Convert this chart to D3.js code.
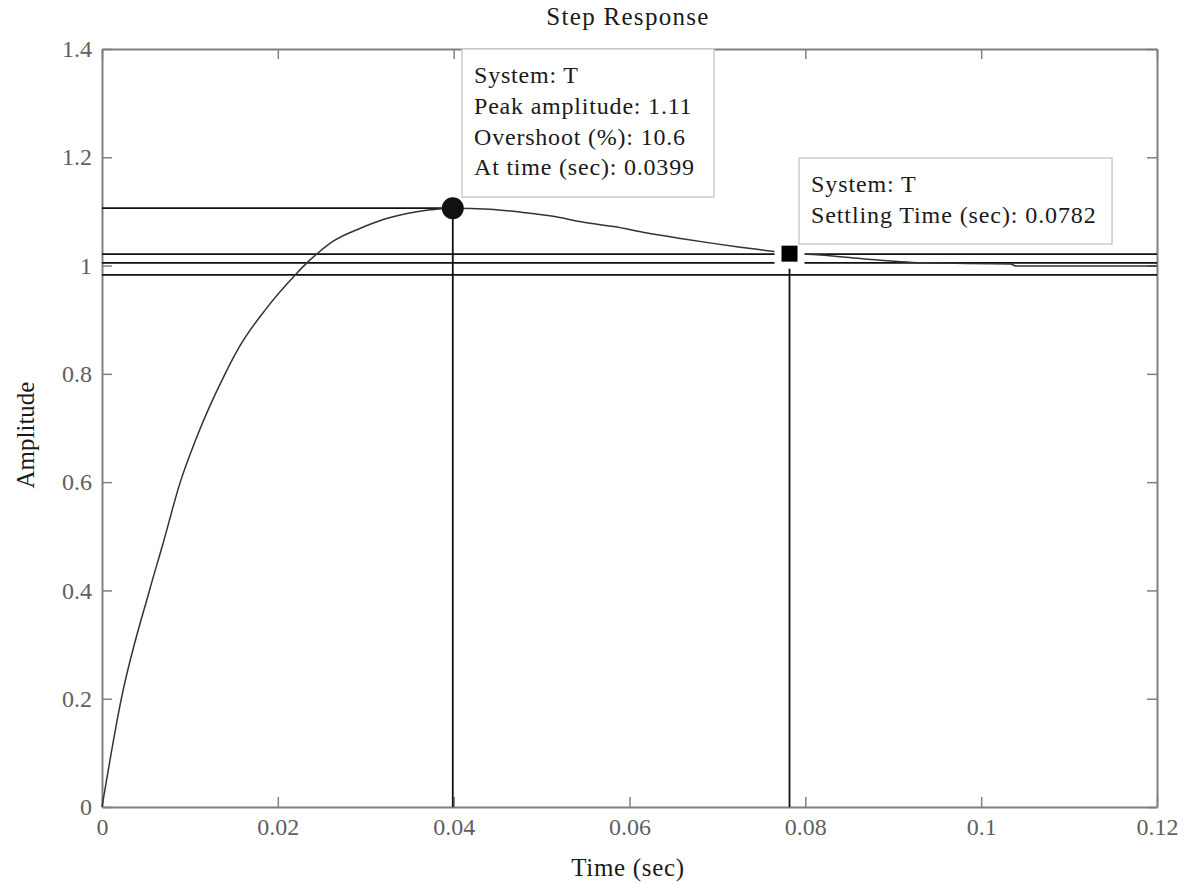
<!DOCTYPE html>
<html>
<head>
<meta charset="utf-8">
<script src="https://cdn.jsdelivr.net/npm/d3@7/dist/d3.min.js"></script>
<style>
  body { margin: 0; background: #fff; }
  text { font-family: "Liberation Serif", "Times New Roman", serif; }
</style>
</head>
<body>
<svg id="chart" width="1184" height="884"></svg>
<script>
// step response samples
var timeValues = [0, 0.0022, 0.0054, 0.0070, 0.0089, 0.0106, 0.0140, 0.0157, 0.0187, 0.0220,
  0.0233, 0.0244, 0.0263, 0.0294, 0.0320, 0.0347, 0.0369, 0.0399, 0.0441, 0.0479,
  0.0513, 0.0548, 0.0582, 0.0620, 0.0658, 0.0695, 0.0726, 0.0764, 0.0782, 0.0798,
  0.0813, 0.0843, 0.0885, 0.0938, 0.1033, 0.1040, 0.1200];
var ampValues = [0, 0.2, 0.4, 0.49, 0.6, 0.676, 0.8, 0.852, 0.921, 0.983,
  1.005, 1.021, 1.045, 1.069, 1.085, 1.096, 1.102, 1.106, 1.104, 1.098,
  1.091, 1.080, 1.072, 1.060, 1.050, 1.041, 1.034, 1.026, 1.022, 1.021,
  1.020, 1.016, 1.010, 1.005, 1.003, 0.999, 0.999];

var xTicks = [0, 0.02, 0.04, 0.06, 0.08, 0.1, 0.12];
var xTickLabels = ['0', '0.02', '0.04', '0.06', '0.08', '0.1', '0.12'];
var yTicks = [0, 0.2, 0.4, 0.6, 0.8, 1, 1.2, 1.4];
var yTickLabels = ['0', '0.2', '0.4', '0.6', '0.8', '1', '1.2', '1.4'];

// peak / settling characteristics
var peakTime = 0.0399, peakAmp = 1.106;
var settleTime = 0.0782, settleAmp = 1.022;
var bandLevels = [1.021, 1.005, 0.983];

var peakTip = ['System: T', 'Peak amplitude: 1.11', 'Overshoot (%): 10.6', 'At time (sec): 0.0399'];
var settleTip = ['System: T', 'Settling Time (sec): 0.0782'];

var margin = { top: 49, right: 27, bottom: 77, left: 102 };
var width = 1184 - margin.left - margin.right;
var height = 884 - margin.top - margin.bottom;

var serif = '"Liberation Serif", "Times New Roman", serif';

var svg = d3.select('#chart');
var g = svg.append('g').attr('transform', 'translate(' + margin.left + ',' + margin.top + ')');

var x = d3.scaleLinear().domain([0, 0.12]).range([0, width]);
var y = d3.scaleLinear().domain([0, 1.4]).range([height, 0]);

var axisColor = '#808080';
var fontSize = 24;

function styleAxis(sel, labelled) {
  sel.select('.domain').attr('stroke', axisColor).attr('stroke-width', 2);
  sel.selectAll('.tick line').attr('stroke', axisColor).attr('stroke-width', 1.5);
  sel.selectAll('.tick text')
    .attr('fill', '#606060')
    .attr('font-size', fontSize + 'px')
    .attr('font-family', serif);
  if (!labelled) sel.selectAll('.tick text').remove();
}

g.append('g')
  .attr('transform', 'translate(0,' + height + ')')
  .call(d3.axisBottom(x).tickValues(xTicks).tickSize(-10).tickSizeOuter(0).tickPadding(11)
    .tickFormat(function (d, i) { return xTickLabels[i]; }))
  .call(styleAxis, true);

g.append('g')
  .call(d3.axisTop(x).tickValues(xTicks).tickSize(-10).tickSizeOuter(0))
  .call(styleAxis, false);

g.append('g')
  .call(d3.axisLeft(y).tickValues(yTicks).tickSize(-10).tickSizeOuter(0).tickPadding(10)
    .tickFormat(function (d, i) { return yTickLabels[i]; }))
  .call(styleAxis, true);

g.append('g')
  .attr('transform', 'translate(' + width + ',0)')
  .call(d3.axisRight(y).tickValues(yTicks).tickSize(-10).tickSizeOuter(0))
  .call(styleAxis, false);

// settling band and final value lines
g.selectAll('.band')
  .data(bandLevels)
  .enter()
  .append('line')
  .attr('class', 'band')
  .attr('x1', 0)
  .attr('x2', width)
  .attr('y1', function (d) { return y(d); })
  .attr('y2', function (d) { return y(d); })
  .attr('stroke', '#111')
  .attr('stroke-width', 1.8);

// peak guide lines
g.append('line')
  .attr('x1', 0).attr('x2', x(peakTime))
  .attr('y1', y(peakAmp)).attr('y2', y(peakAmp))
  .attr('stroke', '#111').attr('stroke-width', 1.8);
g.append('line')
  .attr('x1', x(peakTime)).attr('x2', x(peakTime))
  .attr('y1', y(0)).attr('y2', y(peakAmp))
  .attr('stroke', '#111').attr('stroke-width', 1.8);

// settling guide line
g.append('line')
  .attr('x1', x(settleTime)).attr('x2', x(settleTime))
  .attr('y1', y(0)).attr('y2', y(settleAmp))
  .attr('stroke', '#111').attr('stroke-width', 1.8);

var line = d3.line()
  .curve(d3.curveMonotoneX)
  .x(function (d) { return x(d[0]); })
  .y(function (d) { return y(d[1]); });

g.append('path')
  .datum(d3.zip(timeValues, ampValues))
  .attr('fill', 'none')
  .attr('stroke', '#333')
  .attr('stroke-width', 1.5)
  .attr('d', line);

// markers
g.append('rect')
  .attr('x', x(settleTime) - 15).attr('y', y(settleAmp) - 15)
  .attr('width', 30).attr('height', 30)
  .attr('fill', '#fff');
g.append('rect')
  .attr('x', x(settleTime) - 8).attr('y', y(settleAmp) - 8)
  .attr('width', 16).attr('height', 16)
  .attr('fill', '#000');
g.append('circle')
  .attr('cx', x(peakTime)).attr('cy', y(peakAmp))
  .attr('r', 11)
  .attr('fill', '#111');

// data tips
function addTip(lines, bx, by, bw, bh, spacing) {
  var tip = svg.append('g');
  tip.append('rect')
    .attr('x', bx).attr('y', by).attr('width', bw).attr('height', bh)
    .attr('fill', '#fff').attr('stroke', '#cccccc').attr('stroke-width', 1.5);
  tip.selectAll('text')
    .data(lines)
    .enter()
    .append('text')
    .attr('x', bx + 12)
    .attr('y', function (d, i) { return by + 34 + i * 30.8; })
    .attr('font-size', fontSize + 'px')
    .attr('font-family', serif)
    .attr('letter-spacing', spacing + 'px')
    .attr('fill', '#1a1a1a')
    .text(function (d) { return d; });
}
addTip(peakTip, 462, 49, 252, 148, 0.8);
addTip(settleTip, 799, 158, 313, 86, 0.9);

// titles
svg.append('text')
  .attr('x', 628).attr('y', 25)
  .attr('text-anchor', 'middle')
  .attr('font-size', '25px')
  .attr('font-family', serif)
  .attr('letter-spacing', '1.3px')
  .attr('fill', '#1a1a1a')
  .text('Step Response');

svg.append('text')
  .attr('x', 628).attr('y', 876)
  .attr('text-anchor', 'middle')
  .attr('font-size', '25px')
  .attr('font-family', serif)
  .attr('letter-spacing', '0.7px')
  .attr('fill', '#1a1a1a')
  .text('Time (sec)');

svg.append('text')
  .attr('transform', 'translate(34,435) rotate(-90)')
  .attr('text-anchor', 'middle')
  .attr('font-size', '25px')
  .attr('font-family', serif)
  .attr('fill', '#1a1a1a')
  .text('Amplitude');
</script>
</body>
</html>
